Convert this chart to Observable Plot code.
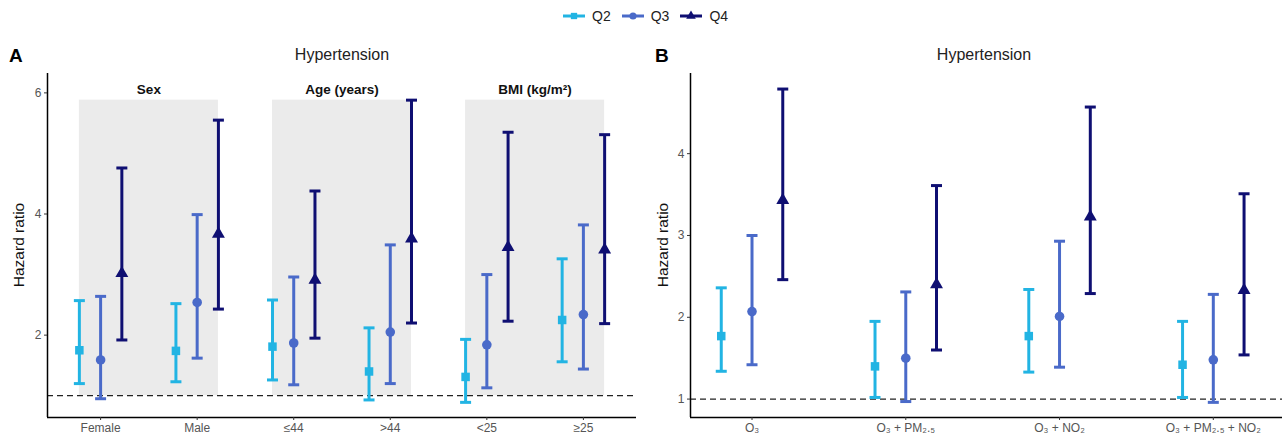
<!DOCTYPE html>
<html>
<head>
<meta charset="utf-8">
<script src="https://cdn.jsdelivr.net/npm/d3@7"></script>
<script src="https://cdn.jsdelivr.net/npm/@observablehq/plot@0.6"></script>
<style>
  html, body { margin: 0; padding: 0; background: #fff; }
  #root { position: relative; width: 1282px; height: 439px; font-family: "Liberation Sans", Arial, sans-serif; overflow: hidden; }
  .abs { position: absolute; }
  .letter { font-weight: bold; font-size: 19px; color: #000; }
  .title { font-size: 16px; color: #222; transform: translateX(-50%); white-space: nowrap; }
  .ytitle { font-size: 15.5px; color: #111; transform: translate(-50%, -50%) rotate(-90deg); white-space: nowrap; }
  #legend { display: flex; align-items: center; font-size: 14px; color: #222; }
  #legend .item { display: flex; align-items: center; margin-right: 10px; }
  #legend svg { margin-right: 6px; }
</style>
</head>
<body>
<div id="root">
  <div id="legend" class="abs" style="left:562px; top:8px;"></div>
  <div class="abs letter" style="left:9px; top:45px;">A</div>
  <div class="abs letter" style="left:655px; top:45px;">B</div>
  <div class="abs title" style="left:342px; top:46px;">Hypertension</div>
  <div class="abs title" style="left:984px; top:46px;">Hypertension</div>
  <div class="abs ytitle" style="left:19px; top:245px;">Hazard ratio</div>
  <div class="abs ytitle" style="left:663px; top:245px;">Hazard ratio</div>
  <div id="panelA" class="abs" style="left:0px; top:0px;"></div>
  <div id="panelB" class="abs" style="left:644px; top:0px;"></div>
</div>
<script>
// ---------------- Data ----------------
const quartiles = ["Q2", "Q3", "Q4"];
const quartileColors = ["#22b4e3", "#4a6ac9", "#0f0f72"];
const quartileSymbols = ["square", "circle", "triangle"];

// Panel A: subgroups
const groupsA = ["Female", "Male", "≤44", ">44", "<25", "≥25"];
const facetsA = ["Sex", "Age (years)", "BMI (kg/m²)"];
const hrA_Q2 = [1.75, 1.74, 1.81, 1.40, 1.31, 2.25];
const loA_Q2 = [1.20, 1.23, 1.26, 0.93, 0.89, 1.56];
const hiA_Q2 = [2.57, 2.52, 2.58, 2.12, 1.93, 3.26];
const hrA_Q3 = [1.59, 2.54, 1.87, 2.05, 1.84, 2.34];
const loA_Q3 = [0.95, 1.62, 1.18, 1.20, 1.13, 1.44];
const hiA_Q3 = [2.64, 3.99, 2.96, 3.49, 3.00, 3.82];
const hrA_Q4 = [3.02, 3.67, 2.91, 3.59, 3.45, 3.41];
const loA_Q4 = [1.92, 2.43, 1.95, 2.20, 2.23, 2.19];
const hiA_Q4 = [4.76, 5.55, 4.38, 5.88, 5.35, 5.31];
const yTicksA = [2, 4, 6];

// Panel B: pollutant models
const groupsB = ["O₃", "O₃ + PM₂.₅", "O₃ + NO₂", "O₃ + PM₂.₅ + NO₂"];
const hrB_Q2 = [1.77, 1.40, 1.77, 1.42];
const loB_Q2 = [1.34, 1.02, 1.33, 1.02];
const hiB_Q2 = [2.36, 1.95, 2.34, 1.95];
const hrB_Q3 = [2.07, 1.50, 2.01, 1.48];
const loB_Q3 = [1.42, 0.97, 1.39, 0.96];
const hiB_Q3 = [3.00, 2.31, 2.93, 2.28];
const hrB_Q4 = [3.43, 2.40, 3.23, 2.33];
const loB_Q4 = [2.46, 1.60, 2.29, 1.54];
const hiB_Q4 = [4.79, 3.61, 4.57, 3.51];
const yTicksB = [1, 2, 3, 4];

// ---------------- Build tables ----------------
function buildRows(groups, hr, lo, hi, dodge) {
  const rows = [];
  quartiles.forEach((q, qi) => {
    groups.forEach((g, gi) => {
      rows.push({
        group: g, gi, q, qi,
        x: gi + (qi - 1) * dodge,
        hr: hr[qi][gi], lo: lo[qi][gi], hi: hi[qi][gi]
      });
    });
  });
  return rows;
}
const rowsA = buildRows(groupsA, [hrA_Q2, hrA_Q3, hrA_Q4], [loA_Q2, loA_Q3, loA_Q4], [hiA_Q2, hiA_Q3, hiA_Q4], 0.22);
const rowsB = buildRows(groupsB, [hrB_Q2, hrB_Q3, hrB_Q4], [loB_Q2, loB_Q3, loB_Q4], [hiB_Q2, hiB_Q3, hiB_Q4], 0.2);

// horizontal cap symbol
const capSymbol = {
  draw(context, size) {
    const w = Math.sqrt(size / Math.PI);
    context.moveTo(-w, 0);
    context.lineTo(w, 0);
  }
};

const colorScale = { domain: quartiles, range: quartileColors };
const symbolScale = { domain: quartiles, range: quartileSymbols };
const fmt = d => String(d);

function errorMarks(rows) {
  return [
    Plot.ruleX(rows, { x: "x", y1: "lo", y2: "hi", stroke: "q", strokeWidth: 3 }),
    Plot.dot(rows, { x: "x", y: "lo", symbol: () => capSymbol, r: 5.5, stroke: "q", fill: "none", strokeWidth: 3 }),
    Plot.dot(rows, { x: "x", y: "hi", symbol: () => capSymbol, r: 5.5, stroke: "q", fill: "none", strokeWidth: 3 }),
    Plot.dot(rows, { x: "x", y: "hr", symbol: "q", fill: "q", stroke: "none", r: 4.8 })
  ];
}

// ---------------- Panel A ----------------
const xDomA = [-0.55, 5.55];
const yDomA = [0.64, 6.32];
const facetRects = facetsA.map((f, i) => ({
  label: f,
  x1: 2 * i - 0.22, x2: 2 * i + 1 + 0.22,
  mid: 2 * i + 0.5
}));
const rectTop = d3.max(hiA_Q4);

const plotA = Plot.plot({
  width: 644, height: 439,
  marginLeft: 47, marginRight: 8, marginTop: 73, marginBottom: 22,
  style: { fontFamily: "Liberation Sans, Arial, sans-serif", background: "transparent", overflow: "visible" },
  x: { domain: xDomA, label: null },
  y: { domain: yDomA, label: null },
  color: colorScale,
  symbol: symbolScale,
  marks: [
    Plot.rectY(facetRects, { x1: "x1", x2: "x2", y1: 1, y2: rectTop, fill: "#ebebeb" }),
    Plot.text(facetRects, { x: "mid", y: rectTop, text: "label", dy: -10, fontWeight: "bold", fontSize: 13.5, fill: "#111" }),
    Plot.ruleY([1], { stroke: "#222", strokeWidth: 1.3, strokeDasharray: "6,4" }),
    ...errorMarks(rowsA),
    Plot.ruleX([xDomA[0]], { stroke: "#000", strokeWidth: 1.5 }),
    Plot.ruleY([yDomA[0]], { stroke: "#000", strokeWidth: 1.5 }),
    Plot.axisX({ ticks: d3.range(groupsA.length), tickFormat: i => groupsA[i], tickSize: 3, tickPadding: 3, fontSize: 12, fill: "#555", stroke: "#333", label: null }),
    Plot.axisY({ ticks: yTicksA, tickFormat: fmt, tickSize: 3, tickPadding: 3, fontSize: 12, fill: "#555", stroke: "#333", label: null })
  ]
});
document.getElementById("panelA").appendChild(plotA);

// ---------------- Panel B ----------------
const xDomB = [-0.4, 3.45];
const yDomB = [0.775, 4.98];
const plotB = Plot.plot({
  width: 638, height: 439,
  marginLeft: 46, marginRight: 0, marginTop: 73, marginBottom: 22,
  style: { fontFamily: "Liberation Sans, Arial, sans-serif", background: "transparent", overflow: "visible" },
  x: { domain: xDomB, label: null },
  y: { domain: yDomB, label: null },
  color: colorScale,
  symbol: symbolScale,
  marks: [
    Plot.ruleY([1], { stroke: "#222", strokeWidth: 1.3, strokeDasharray: "6,4" }),
    ...errorMarks(rowsB),
    Plot.ruleX([xDomB[0]], { stroke: "#000", strokeWidth: 1.5 }),
    Plot.ruleY([yDomB[0]], { stroke: "#000", strokeWidth: 1.5 }),
    Plot.axisX({ ticks: d3.range(groupsB.length), tickFormat: i => groupsB[i], tickSize: 3, tickPadding: 3, fontSize: 12, fill: "#555", stroke: "#333", label: null }),
    Plot.axisY({ ticks: yTicksB, tickFormat: fmt, tickSize: 3, tickPadding: 3, fontSize: 12, fill: "#555", stroke: "#333", label: null })
  ]
});
document.getElementById("panelB").appendChild(plotB);

// ---------------- Legend ----------------
const legend = document.getElementById("legend");
const symGen = { square: d3.symbolSquare, circle: d3.symbolCircle, triangle: d3.symbolTriangle };
quartiles.forEach((q, i) => {
  const item = document.createElement("div");
  item.className = "item";
  const svg = d3.create("svg").attr("width", 24).attr("height", 14);
  svg.append("line").attr("x1", 1).attr("x2", 23).attr("y1", 7).attr("y2", 7)
    .attr("stroke", quartileColors[i]).attr("stroke-width", 3);
  svg.append("path").attr("transform", "translate(12,7)")
    .attr("d", d3.symbol(symGen[quartileSymbols[i]], 40)())
    .attr("fill", quartileColors[i]);
  item.appendChild(svg.node());
  const label = document.createElement("span");
  label.textContent = q;
  item.appendChild(label);
  legend.appendChild(item);
});
</script>
</body>
</html>
